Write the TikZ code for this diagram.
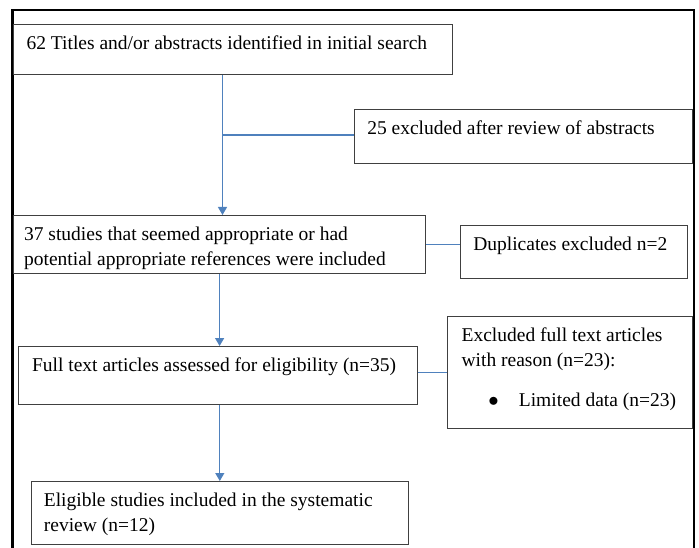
\documentclass[tikz,border=0pt]{standalone}
\usepackage{fontspec}
\setmainfont{Liberation Serif}
\usetikzlibrary{arrows.meta}
\definecolor{linkblue}{HTML}{4F81BD}
\definecolor{boxgray}{HTML}{404040}
% box text: width, height, text (text sits at the top of the box)
\newcommand{\boxtext}[3]{\parbox[b][#2][t]{#1}{\raggedright\vspace*{11pt}#3}}

\begin{document}
\begin{tikzpicture}[x=1pt,y=-1pt,font=\fontsize{19.5}{25}\selectfont,
		box/.style={draw=boxgray,line width=1.2pt,anchor=north west,inner ysep=0pt},
		flow/.style={draw=linkblue,line width=1.3pt,-{Triangle[width=9pt,length=8pt]}},
		link/.style={draw=linkblue,line width=1.3pt}]
	\useasboundingbox (0,0) rectangle (699,548);
	\draw[line width=2.8pt] (12.7,548) -- (12.7,10) -- (694,10) -- (694,548);
	
	\node[box,inner xsep=13pt] (srch) at (13,24) {\boxtext{413pt}{50pt}{62 Titles and/or abstracts identified in initial search}};
	\node[box,inner xsep=12.7pt] (abs) at (354,109) {\boxtext{312.6pt}{54pt}{25 excluded after review of abstracts}};
	\node[box,inner xsep=10.5pt] (stud) at (13,215) {\boxtext{391pt}{58pt}{37 studies that seemed appropriate or had\\ potential appropriate references were included}};
	\node[box,inner xsep=12.7pt] (dup) at (460,225) {\boxtext{201.6pt}{53pt}{Duplicates excluded n=2}};
	\node[box,inner xsep=14pt] (full) at (17.5,346) {\boxtext{371.5pt}{58pt}{Full text articles assessed for eligibility (n=35)}};
	\node[box,inner xsep=14pt] (excl) at (447,316) {\boxtext{217pt}{112pt}{Excluded full text articles\\ with reason (n=23):\\[15pt]
		\makebox[57.3pt][l]{\hspace*{26.8pt}$\bullet$}Limited data (n=23)}};
	\node[box,inner xsep=12.6pt] (elig) at (30.7,481) {\boxtext{351.8pt}{63pt}{Eligible studies included in the systematic\\ review (n=12)}};
	
	\coordinate (j1) at (222.5,135);
	\path (srch.south -| j1) edge[flow] (stud.north -| j1)
		(j1) edge[link] (j1 -| abs.west)
		(stud.east) edge[link] (stud.east -| dup.west)
		(stud.south) edge[flow] (stud.south |- full.north)
		(excl.west -| full.east) edge[link] (excl.west)
		(elig.north |- full.south) edge[flow] (elig.north);
\end{tikzpicture}
\end{document}
